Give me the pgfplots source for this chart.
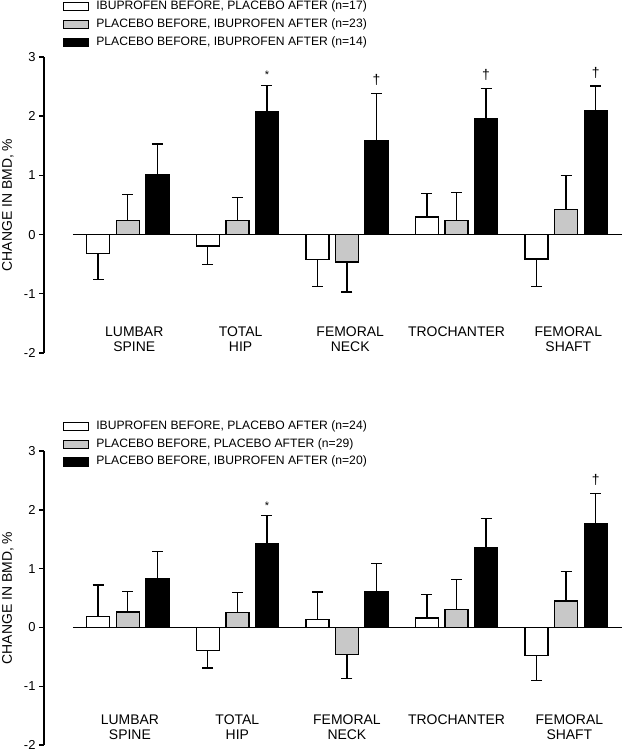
\documentclass[border=0pt]{standalone}
\usepackage{fontspec}
\setmainfont{Liberation Sans}
\usepackage{pgfplots}
\pgfplotsset{compat=1.18}
\usepackage{pgfplotstable}
\definecolor{bargray}{RGB}{200,200,200}

% top panel
\pgfplotstableread{
x y ep em
0 -0.32 0 0.44
1 -0.19 0 0.32
2 -0.42 0 0.46
3 0.30 0.40 0
4 -0.41 0 0.47
}\topA
\pgfplotstableread{
x y ep em
0 0.24 0.44 0
1 0.24 0.39 0
2 -0.46 0 0.51
3 0.24 0.47 0
4 0.42 0.58 0
}\topB
\pgfplotstableread{
x y ep em
0 1.01 0.52 0
1 2.07 0.45 0
2 1.59 0.79 0
3 1.95 0.52 0
4 2.09 0.42 0
}\topC
% bottom panel
\pgfplotstableread{
x y ep em
0 0.19 0.53 0
1 -0.39 0 0.30
2 0.13 0.47 0
3 0.16 0.40 0
4 -0.48 0 0.42
}\botA
\pgfplotstableread{
x y ep em
0 0.26 0.35 0
1 0.25 0.34 0
2 -0.46 0 0.41
3 0.30 0.51 0
4 0.45 0.50 0
}\botB
\pgfplotstableread{
x y ep em
0 0.83 0.46 0
1 1.42 0.48 0
2 0.61 0.48 0
3 1.36 0.49 0
4 1.76 0.52 0
}\botC

\pgfplotsset{
  bmdaxis/.style={
    scale only axis, width=578bp,
    xmin=-0.764, xmax=4.51, ymin=-2, ymax=3,
    axis x line=none, axis y line*=left,
    ytick={-2,-1,0,1,2,3}, xtick=\empty,
    tick align=outside, major tick length=5bp,
    every tick/.style={black, line width=1.4bp},
    axis line style={black, line width=1.4bp},
    /pgf/number format/assume math mode=true,
    yticklabel style={font=\fontsize{13}{15}\selectfont},
    ylabel={CHANGE IN BMD, \%},
    ylabel style={font=\fontsize{14}{16}\selectfont, at={(axis description cs:-0.0623,0.5)}, anchor=center},
    clip=false,
    legend cell align=left,
    legend style={draw=none, fill=none, inner sep=0pt, outer sep=0pt, anchor=north west,
      row sep=6.8bp, column sep=7bp, font=\fontsize{12.2}{13}\selectfont,
      nodes={inner sep=0pt, text height=8.5bp, text depth=2.5bp}},
  },
  barbase/.style={ybar, bar width=23bp, bar shift=0pt, draw=black, line width=1.4bp,
    error bars/.cd, y dir=both, y explicit,
    error bar style={black, line width=1.3bp},
    error mark options={black, line width=1.3bp, mark size=5.5bp, rotate=90}},
  legwhite/.style={legend image code/.code={\draw[black, fill=white, line width=1.3bp] (0bp,-4bp) rectangle (25bp,4bp);}},
  leggray/.style={legend image code/.code={\draw[black, fill=bargray, line width=1.3bp] (0bp,-4bp) rectangle (25bp,4bp);}},
  legblack/.style={legend image code/.code={\draw[black, fill=black, line width=1.3bp] (0bp,-4bp) rectangle (25bp,4bp);}},
}
\tikzset{
  catlab/.style={anchor=north, inner sep=0pt, align=center, font=\fontsize{14}{15}\selectfont},
  starlab/.style={anchor=base, inner sep=0pt, yshift=6.6bp, font=\fontsize{11}{12}\selectfont},
  daglab/.style={anchor=base, inner sep=0pt, yshift=9bp, font=\fontsize{14}{14}\selectfont},
}

\begin{document}
\begin{tikzpicture}
\useasboundingbox (0,0) rectangle (622bp,751bp);
% ---------------- top panel ----------------
\begin{axis}[bmdaxis, height=296bp, at={(44bp,398bp)}, anchor=south west,
  legend style={at={(0.0329,1.189)}}]
\addplot[black, line width=1.4bp, forget plot] coordinates {(-0.5,0) (4.51,0)};
\addplot[fill=white, legwhite, barbase] table[x expr=\thisrow{x}-0.27,y=y,y error plus=ep,y error minus=em]{\topA};
\addlegendentry{IBUPROFEN BEFORE, PLACEBO AFTER (n=17)}
\addplot[fill=bargray, leggray, barbase] table[x=x,y=y,y error plus=ep,y error minus=em]{\topB};
\addlegendentry{PLACEBO BEFORE, IBUPROFEN AFTER (n=23)}
\addplot[fill=black, legblack, barbase] table[x expr=\thisrow{x}+0.27,y=y,y error plus=ep,y error minus=em]{\topC};
\addlegendentry{PLACEBO BEFORE, IBUPROFEN AFTER (n=14)}
\node[starlab] at (axis cs:1.27,2.52) {*};
\node[daglab] at (axis cs:2.27,2.38) {†};
\node[daglab] at (axis cs:3.27,2.47) {†};
\node[daglab] at (axis cs:4.27,2.51) {†};
\node[catlab] at (axis cs:0.06,-1.561) {LUMBAR\\SPINE};
\node[catlab] at (axis cs:1.03,-1.561) {TOTAL\\HIP};
\node[catlab] at (axis cs:2.03,-1.561) {FEMORAL\\NECK};
\node[catlab] at (axis cs:3.0,-1.561) {TROCHANTER};
\node[catlab] at (axis cs:4.02,-1.561) {FEMORAL\\SHAFT};
\end{axis}
% ---------------- bottom panel ----------------
\begin{axis}[bmdaxis, height=294bp, at={(44bp,6bp)}, anchor=south west,
  legend style={at={(0.0329,1.1024)}}]
\addplot[black, line width=1.4bp, forget plot] coordinates {(-0.5,0) (4.51,0)};
\addplot[fill=white, legwhite, barbase] table[x expr=\thisrow{x}-0.27,y=y,y error plus=ep,y error minus=em]{\botA};
\addlegendentry{IBUPROFEN BEFORE, PLACEBO AFTER (n=24)}
\addplot[fill=bargray, leggray, barbase] table[x=x,y=y,y error plus=ep,y error minus=em]{\botB};
\addlegendentry{PLACEBO BEFORE, PLACEBO AFTER (n=29)}
\addplot[fill=black, legblack, barbase] table[x expr=\thisrow{x}+0.27,y=y,y error plus=ep,y error minus=em]{\botC};
\addlegendentry{PLACEBO BEFORE, IBUPROFEN AFTER (n=20)}
\node[starlab] at (axis cs:1.27,1.90) {*};
\node[daglab] at (axis cs:4.27,2.28) {†};
\node[catlab] at (axis cs:0.02,-1.486) {LUMBAR\\SPINE};
\node[catlab] at (axis cs:1.0,-1.486) {TOTAL\\HIP};
\node[catlab] at (axis cs:2.0,-1.486) {FEMORAL\\NECK};
\node[catlab] at (axis cs:3.0,-1.486) {TROCHANTER};
\node[catlab] at (axis cs:4.03,-1.486) {FEMORAL\\SHAFT};
\end{axis}
\end{tikzpicture}
\end{document}
